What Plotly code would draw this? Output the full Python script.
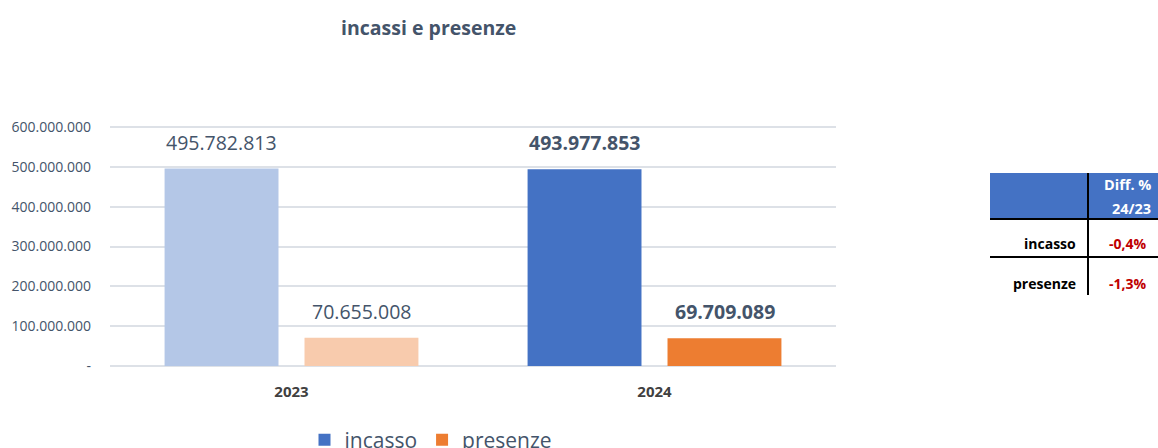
import plotly.graph_objects as go

years = ["2023", "2024"]
incasso = [495782813, 493977853]
presenze = [70655008, 69709089]
y_ticks = [0, 100000000, 200000000, 300000000, 400000000, 500000000, 600000000]
diff_rows = ["incasso", "presenze"]
diff_vals = ["-0,4%", "-1,3%"]
diff_header = ["Diff. %", "24/23"]

W, H = 1158, 448
PL, PR, PT, PB = 110, 836, 125, 368  # plot area in pixels
L, R, T, B = PL, W - PR, PT, H - PB
PW, PH = PR - PL, PB - PT
FONT = "Open Sans"
TXT = "#44546A"


def fmt(v):
    return f"{v:,}".replace(",", ".") if v else "-"


def px(x):
    return (x - PL) / PW


def py(y):
    return (PB - y) / PH


inc_colors = ["#B4C7E7", "#4472C4"]
pre_colors = ["#F8CBAD", "#ED7D31"]

fig = go.Figure()
# draw 2024 first so the legend swatches use the saturated colours
for i in (1, 0):
    fig.add_trace(go.Bar(name="incasso", x=[years[i]], y=[incasso[i]],
                         marker=dict(color=inc_colors[i], line=dict(width=0)),
                         offsetgroup="inc", legendgroup="inc", showlegend=(i == 1),
                         legendrank=1))
for i in (1, 0):
    fig.add_trace(go.Bar(name="presenze", x=[years[i]], y=[presenze[i]],
                         marker=dict(color=pre_colors[i], line=dict(width=0)),
                         offsetgroup="pre", legendgroup="pre", showlegend=(i == 1),
                         legendrank=2))

# data labels (category index positions)
for i, yr in enumerate(years):
    bold = i == 1
    for vals, shift in ((incasso, -70), (presenze, 70)):
        v = vals[i]
        fig.add_annotation(x=i, y=v, xref="x", yref="y", xshift=shift, yshift=11,
                           text=(f"<b>{fmt(v)}</b>" if bold else fmt(v)),
                           showarrow=False, yanchor="bottom", xanchor="center",
                           font=dict(family=FONT, size=19.5, color=TXT))

# title
fig.add_annotation(x=px(428), y=py(28), xref="paper", yref="paper",
                   text="<b>incassi e presenze</b>", showarrow=False,
                   xanchor="center", yanchor="middle",
                   font=dict(family=FONT, size=19.5, color=TXT))

# table at right
x0, xm, x1 = 990, 1088, 1160
fig.add_shape(type="rect", xref="paper", yref="paper",
              x0=px(x0), x1=px(x1), y0=py(218), y1=py(173),
              fillcolor="#4472C4", line=dict(width=0), layer="below")
fig.add_shape(type="line", xref="paper", yref="paper",
              x0=px(xm), x1=px(xm), y0=py(173), y1=py(295),
              line=dict(color="black", width=2))
for yy in (219, 257):
    fig.add_shape(type="line", xref="paper", yref="paper",
                  x0=px(x0), x1=px(x1), y0=py(yy), y1=py(yy),
                  line=dict(color="black", width=2))
for txt, yy in zip(diff_header, (184, 208)):
    fig.add_annotation(x=px(1153), y=py(yy), xref="paper", yref="paper",
                       text=f"<b>{txt}</b>", showarrow=False,
                       xanchor="right", yanchor="middle",
                       font=dict(family=FONT, size=14.5, color="white"))
for name, val, yy in zip(diff_rows, diff_vals, (243, 283)):
    fig.add_annotation(x=px(1078), y=py(yy), xref="paper", yref="paper",
                       text=f"<b>{name}</b>", showarrow=False,
                       xanchor="right", yanchor="middle",
                       font=dict(family=FONT, size=14, color="black"))
    fig.add_annotation(x=px(1149), y=py(yy), xref="paper", yref="paper",
                       text=f"<b>{val}</b>", showarrow=False,
                       xanchor="right", yanchor="middle",
                       font=dict(family=FONT, size=14, color="#C00000"))

fig.update_layout(
    width=W, height=H, autosize=False,
    margin=dict(l=L, r=R, t=T, b=B, pad=0, autoexpand=False),
    paper_bgcolor="white", plot_bgcolor="white",
    barmode="group", bargap=0.229, bargroupgap=0.186,
    font=dict(family=FONT, color=TXT),
    showlegend=True,
    legend=dict(orientation="h", x=px(431), xanchor="center", y=py(440), yanchor="middle",
                font=dict(family=FONT, size=21, color=TXT), itemwidth=30,
                traceorder="normal", bgcolor="rgba(0,0,0,0)"),
    xaxis=dict(type="category", range=[-0.5, 1.5], categoryorder="array", categoryarray=years,
               showgrid=False, showline=False, ticks="",
               tickfont=dict(family=FONT, size=15, color="#404040", weight="bold"),
               ticklabelstandoff=13),
    yaxis=dict(range=[-5000000, 605000000], tickvals=y_ticks, ticktext=[fmt(v) for v in y_ticks],
               showgrid=True, gridcolor="#DDE1E7", gridwidth=2, zeroline=False,
               showline=False, ticks="", ticklabelstandoff=18,
               tickfont=dict(family=FONT, size=14, color=TXT)),
)

fig.write_html("out.html", config={"displayModeBar": False},
               post_script="document.body.style.margin='0';document.body.style.overflow='hidden';")
